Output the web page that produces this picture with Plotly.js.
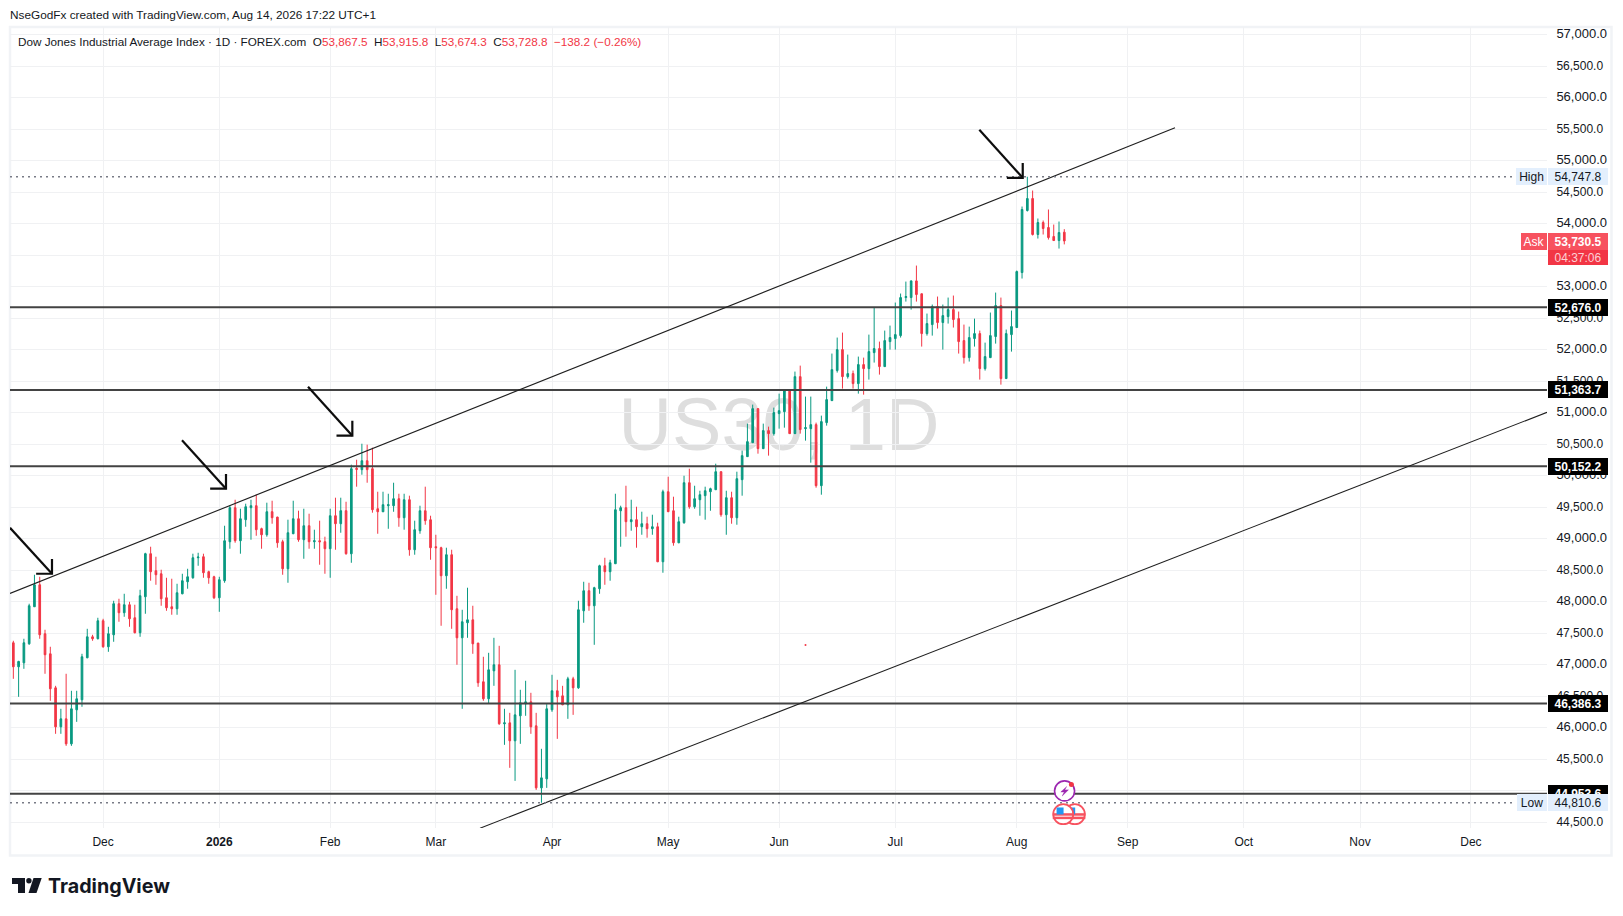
<!DOCTYPE html>
<html>
<head>
<meta charset="utf-8">
<script src="https://cdn.plot.ly/plotly-3.0.1.min.js"></script>
<style>html,body{margin:0;padding:0;background:#fff}#chart{width:1623px;height:916px}</style>
</head>
<body>
<div id="chart"></div>
<script>
const opens=[47350,46969,47032,47334,47922,48271,47493,47175,46635,46016,
46143,45746,46286,46445,47112,47445,47414,47700,47287,47477,
47970,47827,47954,47747,47509,48081,48764,48494,48446,48065,
47922,47890,48128,48319,48382,48700,48716,48478,48398,48065,
48335,48954,49494,48970,49304,49494,49526,49161,49065,49431,
49345,48954,48525,49081,49319,48986,49208,48954,48970,48954,
48843,49367,49240,49447,48763,50119,50098,50240,50113,49478,
49430,49526,49526,49637,49335,49621,48827,49129,49446,49303,
48875,48859,48414,48748,47890,47429,47668,47715,47345,46731,
46461,46905,47001,46064,46079,45794,46191,46381,46413,46032,
45047,45190,46286,46588,46508,46365,46778,46635,47858,48176,
47938,48208,48573,48478,48605,49446,49494,49272,49304,49192,
49240,49161,49192,48636,49748,49446,48938,49256,49891,49510,
49621,49685,49748,49780,50066,49383,49653,49335,49939,50305,
50527,51067,50432,50718,50670,50988,51019,51353,50670,51575,
50749,50749,50813,49844,50845,51194,51671,52004,51575,51623,
51464,51766,51702,51956,52020,51734,52131,52179,52226,52830,
52830,53095,52890,52258,52401,52687,52433,52528,52639,52496,
52147,51877,52179,52258,51702,51877,52211,52703,51544,52242,
52354,53227,54212,54402,53831,54021,53942,53799,53735,53867.5];
const highs=[47382,47064,47414,47970,48430,48398,47557,47287,46667,46302,
46858,46588,46588,47175,47572,47477,47747,47731,47604,48017,
48049,48128,48001,47954,48192,48779,48875,48716,48510,48382,
48367,48287,48446,48525,48764,48779,48764,48494,48414,48398,
49208,49526,49621,49478,49558,49621,49701,49177,49574,49605,
49351,48986,49304,49605,49447,49478,49399,49145,49288,49034,
49478,49653,49653,49589,50177,50256,50510,50495,50447,49748,
49748,49716,49891,49716,49716,49685,49288,49526,49828,49367,
49065,48875,48859,48827,48096,47874,48224,47938,47350,47128,
47191,47429,47302,46302,46238,46921,46604,46747,46556,46238,
45667,46376,46842,46762,46667,46810,46810,48017,48319,48303,
48239,48589,48700,48668,49716,49526,49843,49621,49510,49431,
49351,49383,49256,49780,49986,49669,49351,50002,50113,49843,
49764,49828,49812,50193,50070,49764,49748,50066,50400,50829,
51131,51075,50829,50781,51083,51305,51369,51360,51655,51750,
51258,51258,50845,50956,51416,51941,52195,52274,51925,51671,
51893,51877,52242,52671,52131,52306,52385,52751,52894,53084,
53100,53338,52894,52576,52719,52846,52719,52830,52862,52608,
52401,52369,52496,52306,52115,52592,52909,52830,52322,52624,
53259,54275,54747.8,54529,54085,54053,54228,53989,54037,53915.8];
const lows=[46778,46492,46937,47318,47920,47414,46858,46429,45905,45905,
45714,45714,46095,46334,47105,47382,47405,47271,47207,47366,
47684,47763,47604,47500,47445,47811,48335,48271,47938,47858,
47795,47795,48120,48208,48367,48573,48382,48287,48044,47842,
48303,48843,48938,48764,49192,48986,49049,48843,49034,49240,
48859,48430,48303,49075,48954,48684,48843,48843,48589,48446,
48382,48827,49097,48748,48620,49828,50018,49891,49415,49081,
49425,49160,49430,49192,49145,48732,48748,49081,49224,48668,
48112,47620,48208,47572,47001,46302,47429,47175,46651,46429,
46381,46667,46048,45730,45365,45158,45746,46191,45905,45015,
44810.6,45047,46254,45825,46360,46143,46206,46619,47668,47858,
47318,48128,48271,48335,48600,48875,49034,49129,48859,49065,
49018,49065,48630,48462,49425,48891,48930,49240,49478,49478,
49367,49304,49446,49775,49351,49065,49240,49224,49685,50300,
50520,50352,50425,50321,50638,50749,50765,50665,50665,50670,
50559,50209,49812,49701,50797,51190,51639,51385,51544,51385,
51305,51289,51528,51798,51607,51730,52004,52004,52195,52766,
52639,52766,52052,52226,52226,52338,52004,52417,52354,51941,
51782,51814,52052,51528,51671,51870,52099,51448,51540,51972,
52350,53132,54196,53815,53767,53831,53751,53730,53608,53674.3];
const closes=[46969,47054,47350,47938,48271,47477,47160,46620,46016,46143,
45746,46302,46461,47128,47445,47414,47700,47287,47493,47970,
47827,47954,47731,47509,48097,48764,48478,48430,48049,47906,
47890,48144,48335,48398,48700,48711,48462,48382,48065,48351,
48970,49494,48970,49319,49510,49526,49145,49065,49431,49335,
48938,48525,49097,49319,48986,49208,48954,48970,48954,48843,
49367,49240,49447,48764,50113,50103,50240,50098,49462,49430,
49542,49542,49637,49335,49621,48827,49145,49446,49288,48859,
48859,48414,48748,47874,47429,47684,47715,47334,46715,46461,
46921,47001,46064,46079,45794,46206,46397,46413,46016,45047,
45206,46302,46588,46492,46365,46778,46635,47874,48176,47938,
48224,48573,48478,48621,49462,49494,49272,49304,49192,49240,
49161,49192,48636,49748,49431,48938,49272,49891,49510,49637,
49701,49764,49796,50066,49383,49653,49335,49955,50321,50543,
51067,50432,50718,50670,51004,51035,51353,50670,51575,50734,
50765,50813,49844,50861,51210,51686,52004,51575,51623,51464,
51766,51702,51972,52020,51734,52147,52195,52242,52830,52846,
53095,52878,52258,52417,52687,52433,52544,52639,52481,52131,
51877,52195,52258,51702,51893,52226,52703,51544,52258,52369,
53243,54228,54402,53831,54021,53926,53783,53735,53862,53728.8];

const barIndex=opens.map((_,i)=>i);
const monthTicks=[17,39,60,80,102,124,145,167,190,211,233,255,276];
const monthLabels=['Dec','<b>2026</b>','Feb','Mar','Apr','May','Jun','Jul','Aug','Sep','Oct','Nov','Dec'];
const priceTicks=[57000,56500,56000,55500,55000,54500,54000,53500,53000,52500,52000,51500,51000,50500,50000,49500,49000,48500,48000,47500,47000,46500,46000,45500,45000,44500];
const levels=[52676.0,51363.7,50152.2,46386.3,44953.6];
const levelLabels=['52,676.0','51,363.7','50,152.2','46,386.3','44,953.6'];
const xRange=[-0.63,290.4];
const yRange=[44410,57125];
const upperChannelX=[-0.63,219.97], upperChannelY=[48133,55525];
const lowerChannelX=[88.37,290.4], lowerChannelY=[44407,51008];
const arrowTailX=[-0.63,31.94,55.8,182.91], arrowTailY=[49176,50566,51416,55493];
const arrowTipX=[7.32,40.27,64.19,191.13], arrowTipY=[48446,49796,50638,54731];
const arrowHeadDX=3.0, arrowHeadDY=235;
const highValue=54747.8, lowValue=44810.6, askValue=53730.5;
const dottedEndX=[284.4,284.4];
const boltX=[199.49,198.35,199.01,198.63,199.77,199.11], boltY=[45070,44983,44983,44920,45015,45015];

const UP='#089981', DOWN='#f23645', INK='#131722', GRID='#f0f1f3';
const TXT='"Liberation Sans", Arial, sans-serif';
const PX=(p)=>(p-10)/1537, PY=(p)=>(828-p)/801;

const traces=[];
traces.push({type:'candlestick',x:barIndex,open:opens,high:highs,low:lows,close:closes,
  increasing:{line:{color:UP,width:1},fillcolor:UP},
  decreasing:{line:{color:DOWN,width:1},fillcolor:DOWN},
  whiskerwidth:0,hoverinfo:'skip',showlegend:false});
levels.forEach(v=>traces.push({type:'scatter',mode:'lines',x:xRange,y:[v,v],line:{color:'#434343',width:2},hoverinfo:'skip'}));
traces.push({type:'scatter',mode:'lines',x:upperChannelX,y:upperChannelY,line:{color:'#1f1f1f',width:1.1},hoverinfo:'skip'});
traces.push({type:'scatter',mode:'lines',x:lowerChannelX,y:lowerChannelY,line:{color:'#1f1f1f',width:1.1},hoverinfo:'skip'});
[highValue,lowValue].forEach((v,i)=>traces.push({type:'scatter',mode:'lines',x:[xRange[0],dottedEndX[i]],y:[v,v],line:{color:'#787b86',width:1.5,dash:'2px,4px'},hoverinfo:'skip'}));
arrowTipX.forEach((tx,i)=>{const ty=arrowTipY[i];
  traces.push({type:'scatter',mode:'lines',
    x:[arrowTailX[i],tx,null,tx-arrowHeadDX,tx,tx],
    y:[arrowTailY[i],ty,null,ty,ty,ty+arrowHeadDY],
    line:{color:'#0d0d0d',width:2.2},hoverinfo:'skip'});});
// stray pixel and event icons
traces.push({type:'scatter',mode:'markers',x:[150],y:[47313],marker:{color:DOWN,size:2},hoverinfo:'skip'});
const flagX=[201,198.8], flagY=[44629,44629], canton=[200.4,198.2], cantonY=[44680,44680];
flagX.forEach((fx,i)=>{
  traces.push({type:'scatter',mode:'markers',x:[fx],y:[flagY[i]],marker:{symbol:'circle',size:20,color:'#fff',line:{color:'#f7525f',width:1.8}},hoverinfo:'skip'});
  traces.push({type:'scatter',mode:'markers',x:[fx,fx],y:[44625,44570],marker:{symbol:'line-ew',size:15,line:{color:'#f7525f',width:2.5}},hoverinfo:'skip'});
  traces.push({type:'scatter',mode:'markers',x:[canton[i]],y:[cantonY[i]],marker:{symbol:'square',size:7,color:'#2196f3'},hoverinfo:'skip'});
});
traces.push({type:'scatter',mode:'markers',x:[199.05],y:[44999],marker:{symbol:'circle',size:20,color:'#fff',line:{color:'#9c27b0',width:1.6}},hoverinfo:'skip'});
traces.push({type:'scatter',mode:'lines',x:boltX,y:boltY,fill:'toself',fillcolor:'#9c27b0',line:{color:'#9c27b0',width:0.5},hoverinfo:'skip'});
traces.push({type:'scatter',mode:'markers',x:[200.35],y:[45100],marker:{symbol:'circle',size:5,color:DOWN},hoverinfo:'skip'});

function tag(yVal,text,bg,fg,left,w,h,shift,size){
  return {xref:'paper',yref:'y',x:PX(left),y:yVal,xanchor:'left',yanchor:'middle',text:text,showarrow:false,
    bgcolor:bg,width:w,height:h,borderpad:0,borderwidth:0,align:'center',valign:'middle',yshift:shift||0,
    font:{family:TXT,size:size||12,color:fg}};
}
const annotations=[];
annotations.push({xref:'paper',yref:'paper',x:PX(17),y:PY(41.5),xanchor:'left',yanchor:'middle',showarrow:false,align:'left',
  font:{family:TXT,size:11.73,color:INK},borderpad:0,
  text:'Dow Jones Industrial Average Index · 1D · FOREX.com  O<span style="color:#f23645">53,867.5</span>  H<span style="color:#f23645">53,915.8</span>  L<span style="color:#f23645">53,674.3</span>  C<span style="color:#f23645">53,728.8</span>  <span style="color:#f23645">−138.2 (−0.26%)</span>'});
levels.forEach((v,i)=>annotations.push(tag(v,'<b>'+levelLabels[i]+'</b>','#000000','#ffffff',1548,60,17)));
annotations.push(tag(highValue,'High','#e3effd',INK,1515.5,31,17));
annotations.push(tag(highValue,'54,747.8','#e3effd',INK,1548,60,17));
annotations.push(tag(lowValue,'Low','#e3effd',INK,1516.5,30,17));
annotations.push(tag(lowValue,'44,810.6','#e3effd',INK,1548,60,17));
annotations.push(tag(askValue,'04:37:06','#f23645','#fcd0d4',1548,60,15,-16.5));
annotations.push(tag(askValue,'<b>53,730.5</b>','#f7525f','#ffffff',1548,60,17,-1));
annotations.push(tag(askValue,'Ask','#f7525f','#ffffff',1521,26,17,-1));
annotations.push({xref:'paper',yref:'paper',x:PX(46.7),y:PY(886),xanchor:'left',yanchor:'middle',showarrow:false,text:'<b>TradingView</b>',
  font:{family:'Inter, sans-serif',size:19.7,color:'#131722'},borderpad:0});

const shapes=[
 {type:'rect',xref:'paper',yref:'paper',x0:PX(10),x1:PX(1611.5),y0:PY(27),y1:PY(855.5),line:{color:'#f1f3f6',width:2.5},fillcolor:'rgba(0,0,0,0)',layer:'below'},
 {type:'rect',xref:'paper',yref:'paper',x0:PX(621),x1:PX(937),y0:PY(386),y1:PY(449),line:{width:0},fillcolor:'rgba(0,0,0,0)',layer:'below',
  label:{text:'US30, 1D',textposition:'middle center',font:{family:TXT,size:74,color:'#dedede'}}},
 {type:'path',xref:'paper',yref:'paper',fillcolor:'#131722',line:{width:0},
  path:['M',PX(12),PY(878),'L',PX(25),PY(878),'L',PX(25),PY(893),'L',PX(18),PY(893),'L',PX(18),PY(884),'L',PX(12),PY(884),'Z'].join(' ')},
 {type:'circle',xref:'paper',yref:'paper',fillcolor:'#131722',line:{width:0},x0:PX(26.2),x1:PX(31.6),y0:PY(878),y1:PY(883.4)},
 {type:'path',xref:'paper',yref:'paper',fillcolor:'#131722',line:{width:0},
  path:['M',PX(33.5),PY(878),'L',PX(41.7),PY(878),'L',PX(36.5),PY(893),'L',PX(28.5),PY(893),'Z'].join(' ')}
];

const layout={
  width:1623,height:916,autosize:false,paper_bgcolor:'#fff',plot_bgcolor:'#fff',showlegend:false,
  margin:{l:10,r:76,t:27,b:88,pad:0},
  font:{family:TXT,size:12,color:INK},
  boxgap:0.55,
  title:{text:'NseGodFx created with TradingView.com, Aug 14, 2026 17:22 UTC+1',x:10/1623,xanchor:'left',xref:'container',y:1-15/916,yanchor:'middle',yref:'container',font:{family:TXT,size:11.8,color:INK}},
  xaxis:{type:'linear',range:xRange,autorange:false,fixedrange:true,rangeslider:{visible:false},tickmode:'array',tickvals:monthTicks,ticktext:monthLabels,
    showgrid:true,gridcolor:GRID,gridwidth:1,zeroline:false,showline:false,ticks:'outside',ticklen:3,tickcolor:'rgba(0,0,0,0)',tickfont:{family:TXT,size:12,color:INK},tickangle:0},
  yaxis:{type:'linear',side:'right',range:yRange,autorange:false,fixedrange:true,tickmode:'array',tickvals:priceTicks,
    ticktext:priceTicks.map(v=>{const s=v.toLocaleString('en-US',{minimumFractionDigits:1,maximumFractionDigits:1});return v%1000===0?'<span style="font-size:13px">'+s+'</span>':s;}),
    ticklabelshift:-1,
    showgrid:true,gridcolor:GRID,gridwidth:1,zeroline:false,showline:false,ticks:'outside',ticklen:6,tickcolor:'rgba(0,0,0,0)',tickfont:{family:TXT,size:12,color:INK}},
  annotations:annotations,shapes:shapes
};
Plotly.newPlot('chart',traces,layout,{displayModeBar:false,staticPlot:true});
</script>
</body>
</html>
